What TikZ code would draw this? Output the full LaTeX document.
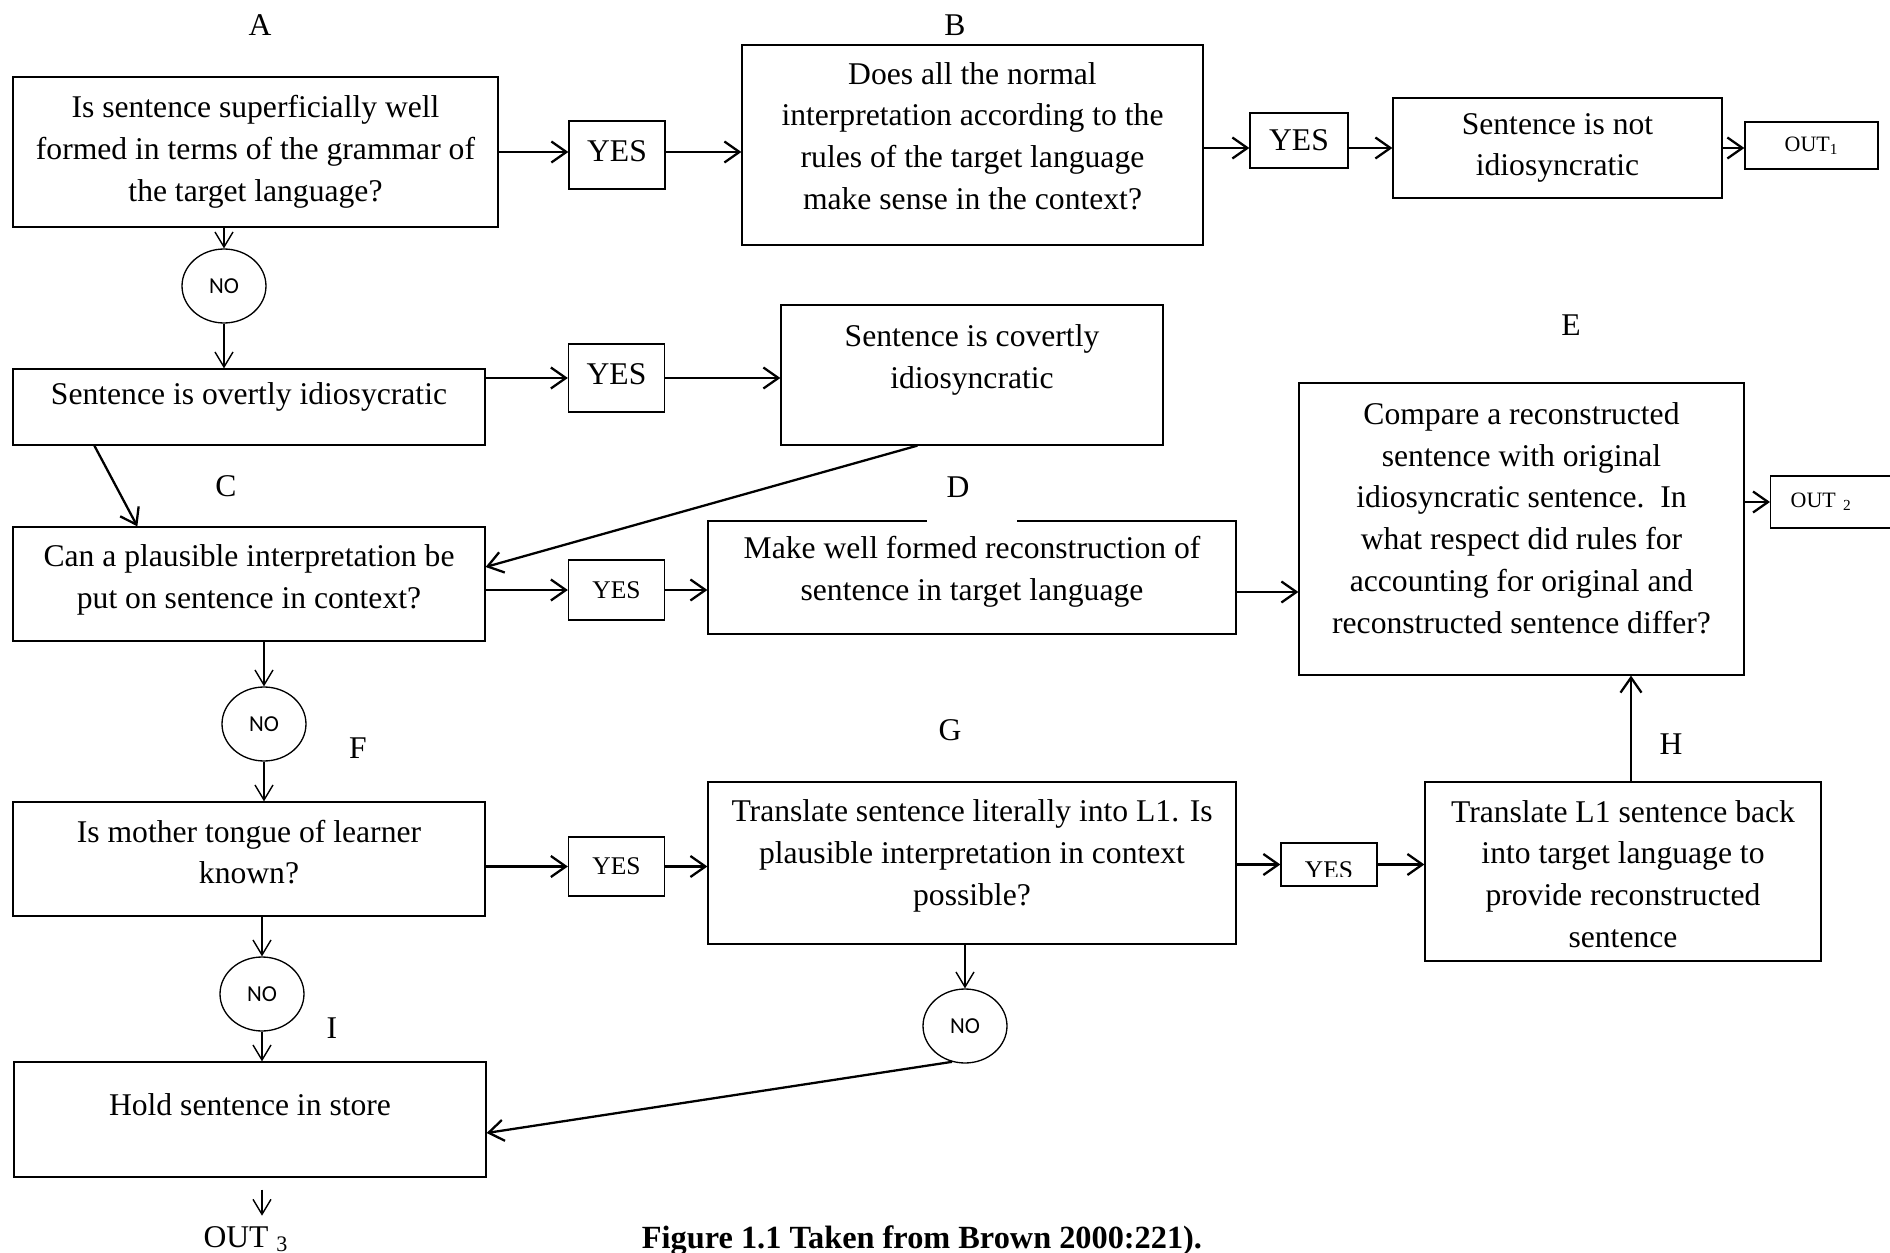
\documentclass[tikz,border=0pt]{standalone}
\usepackage{fontspec}
\setmainfont{Liberation Serif}
\newfontfamily\nofont{Carlito}
\usepackage{tikz}
\usetikzlibrary{positioning,shapes.geometric,arrows.meta}
\tikzset{box/.style={draw,line width=0.75pt,inner sep=0pt,align=center,font=\fontsize{18pt}{23.8pt}\selectfont},
  txt/.style={align=center,inner sep=0pt,font=\fontsize{18pt}{23.8pt}\selectfont},
  yes box/.style={box,minimum width=1.92cm},
  small/.style={font=\fontsize{14.5pt}{16pt}\selectfont},
  no node/.style={ellipse,draw,line width=0.75pt,minimum width=1.68cm,minimum height=1.48cm,inner sep=0pt,font=\nofont\fontsize{13pt}{15pt}\selectfont},
  letter/.style={inner sep=0pt,font=\fontsize{18pt}{20pt}\selectfont},
  arr/.style={-{Straight Barb[length=0.3cm,width=0.42cm]},line width=1.3pt},
  thin arr/.style={-{Straight Barb[length=0.3cm,width=0.36cm]},line width=0.8pt},}
\begin{document}
\begin{tikzpicture}[x=0.02cm,y=-0.02cm]
    \useasboundingbox (0,0) rectangle (1890,1253);

    % row A / B
    \node[box,minimum width=9.7cm,minimum height=3cm] (A) at (255.5,152) {Is sentence superficially well\\formed in terms of the grammar of\\the target language?};
    \node[box,minimum width=9.22cm,minimum height=4cm] (B) at (972.5,145) {};
    \node[txt] (Bt) at (972.5,136) {Does all the normal\\interpretation according to the\\rules of the target language\\make sense in the context?};
    \node[box,minimum width=6.58cm,minimum height=2cm] (nid) at (1557.5,148) {Sentence is not\\idiosyncratic};
    \node[box,minimum width=2.66cm,minimum height=0.94cm,font=\fontsize{12.5pt}{14pt}\selectfont] (o1) at (1811.5,145.5) {OUT\textsubscript{1}};
    \node[yes box,minimum height=1.36cm,text depth=0.16cm] (y1) at (617,155) {YES};
    \node[yes box,minimum width=1.96cm,minimum height=1.1cm] (y2) at (1299,140.5) {YES};

    % overt / covert
    \node[no node] (n1) at (224,286) {NO};
    \node[box,minimum width=9.44cm,minimum height=1.52cm] (ovr) at (249,407) {};
    \node[txt] (ovrtxt) at (249,397) {Sentence is overtly idiosycratic};
    \node[yes box,minimum height=1.36cm,text depth=0.16cm] (y3) at (616.5,378) {YES};
    \node[box,minimum width=7.64cm,minimum height=2.8cm] (cov) at (972,375) {};
    \node[txt] (covtxt) at (972,360) {Sentence is covertly\\idiosyncratic};

    % row C / D / E
    \node[box,minimum width=9.44cm,minimum height=2.28cm] (C) at (249,584) {};
    \node[txt] (Ct) at (249,580) {Can a plausible interpretation be\\put on sentence in context?};
    \node[yes box,small,minimum height=1.2cm] (y4) at (616.5,590) {YES};
    \node[box,minimum width=10.56cm,minimum height=2.26cm] (D) at (972,577.5) {};
    \node[txt] (Dt) at (972,572) {Make well formed reconstruction of\\sentence in target language};
    \node[box,minimum width=8.9cm,minimum height=5.84cm] (E) at (1521.5,529) {};
    \node[txt] (Etxt) at (1521.5,518) {Compare a reconstructed\\sentence with original\\idiosyncratic sentence.\ \ In\\what respect did rules for\\accounting for original and\\reconstructed sentence differ?};
    \node[box,anchor=west,text width=2cm,align=left,inner xsep=0.4cm,minimum height=1.04cm,font=\fontsize{12.5pt}{14pt}\selectfont] (o2) at (1770,502) {OUT \textsubscript{2}};

    % row F / G / H
    \node[no node] (n2) at (264,724) {NO};
    \node[box,minimum width=9.44cm,minimum height=2.28cm] (F) at (249,859) {};
    \node[txt] (Ft) at (249,852) {Is mother tongue of learner\\known?};
    \node[yes box,small,minimum height=1.18cm] (y5) at (616.5,866.5) {YES};
    \node[box,minimum width=10.56cm,minimum height=3.24cm] (G) at (972,863) {};
    \node[txt] (Gt) at (972,856) {Translate sentence literally into L1. Is\\plausible interpretation in context\\possible?};
    \node[yes box,minimum height=0.86cm] (y6) at (1329,864.5) {};
    \begin{scope}
      \clip (1283,845) rectangle (1375,876);
      \node[txt,small,anchor=base] (y6t) at (1329,878) {YES};
    \end{scope}
    \node[box,minimum width=7.92cm,minimum height=3.58cm] (H) at (1623,871.5) {};
    \node[txt] (Ht) at (1623,874) {Translate L1 sentence back\\into target language to\\provide reconstructed\\sentence};

    % store
    \node[no node] (n3) at (262,994) {NO};
    \node[no node] (n4) at (965,1026) {NO};
    \node[box,minimum width=9.44cm,minimum height=2.3cm] (hold) at (250,1119.5) {};
    \node[txt] (holdtxt) at (250,1105) {Hold sentence in store};
    \node[txt,anchor=base] (o3) at (246,1247) {OUT \textsubscript{3}};
    \node[anchor=base,inner sep=0pt,font=\bfseries\fontsize{18.4pt}{20pt}\selectfont] (cap) at (922,1248) {Figure 1.1 Taken from Brown 2000:221).};

    % letters
    \node[letter] (la) at (260,25) {A};
    \node[letter] (lb) at (955,25) {B};
    \node[letter] (le) at (1571,325) {E};
    \node[letter] (lc) at (226,486) {C};
    \node[letter,fill=white,minimum width=1.8cm,minimum height=1.5cm] (ld) at (972,487) {D\kern0.56cm};
    \node[letter] (lf) at (358,748) {F};
    \node[letter] (lg) at (950,730) {G};
    \node[letter] (lh) at (1671,744) {H};
    \node[letter] (li) at (332,1028) {I};

    \draw[arr] (A.east) -- (A.east -| y1.west);
    \draw[arr] (y1.east |- A.east) -- (A.east -| B.west);
    \draw[arr] (B.east |- nid.west) -- (nid.west -| y2.west);
    \draw[arr] (y2.east |- nid.west) -- (nid.west);
    \draw[arr] (nid.east) -- (nid.east -| o1.west);
    \draw[thin arr] (n1.north |- A.south) -- (n1.north);
    \draw[thin arr] (n1.south) -- (n1.south |- ovr.north);
    \draw[arr] (ovr.east |- y3.west) -- (y3.west);
    \draw[arr] (y3.east) -- (y3.east -| cov.west);
    \draw[arr] ([xshift=1.64cm]ovr.south west) -- ([xshift=2.5cm]C.north west);
    \draw[arr] ([xshift=2.74cm]cov.south west) -- ([yshift=0.34cm]C.east);
    \draw[arr] (C.east |- y4.west) -- (y4.west);
    \draw[arr] (y4.east) -- (y4.east -| D.west);
    \draw[arr] ([yshift=-0.29cm]D.east) -- ([yshift=-0.29cm]D.east -| E.west);
    \draw[arr] (E.east |- o2.west) -- (o2.west);
    \draw[arr] ([xshift=0.16cm]H.north) -- ([xshift=0.16cm]H.north |- E.south);
    \draw[thin arr] (n2.north |- C.south) -- (n2.north);
    \draw[thin arr] (n2.south) -- (n2.south |- F.north);
    \draw[arr] (F.east |- y5.west) -- (y5.west);
    \draw[arr] (y5.east) -- (y5.east -| G.west);
    \draw[arr] (G.east |- y6.west) -- (y6.west);
    \draw[arr] (y6.east) -- (y6.east -| H.west);
    \draw[thin arr] (n3.north |- F.south) -- (n3.north);
    \draw[thin arr] (n3.south) -- (n3.south |- hold.north);
    \draw[thin arr] (n4.north |- G.south) -- (n4.north);
    \draw[arr] (n4.250) -- ([yshift=-0.27cm]hold.east);
    \draw[thin arr,shorten <=0.24cm,shorten >=0.2cm] (n3.south |- hold.south) -- (n3.south |- o3.north);
\end{tikzpicture}
\end{document}
